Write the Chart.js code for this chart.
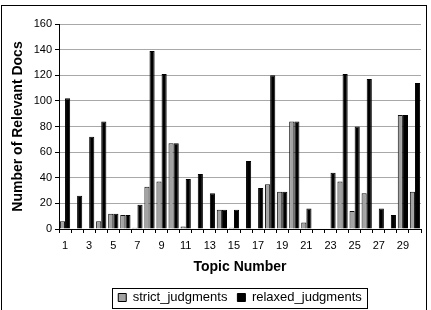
<!DOCTYPE html>
<html>
<head>
<meta charset="utf-8">
<script src="https://cdn.jsdelivr.net/npm/chart.js@4/dist/chart.umd.min.js"></script>
<style>
  html, body { margin: 0; padding: 0; background: #fff; overflow: hidden; }
  #wrap { position: relative; width: 431px; height: 310px; }
  #frame { position: absolute; left: 1px; top: 5px; width: 426px; height: 320px; border: 1px solid #000; box-sizing: border-box; pointer-events: none; }
  canvas { position: absolute; left: 0; top: 0; }
</style>
</head>
<body>
<div id="wrap">
  <canvas id="chart" width="431" height="310"></canvas>
  <div id="frame"></div>
</div>
<script>
// topic numbers 1..30
const topics = ['1','2','3','4','5','6','7','8','9','10','11','12','13','14','15',
                '16','17','18','19','20','21','22','23','24','25','26','27','28','29','30'];
const strictJudgments = [6, 0, 0, 6, 12, 11, 1, 33, 37, 67, 2, 0, 0, 15, 1,
                         0, 0, 35, 29, 84, 5, 0, 0, 37, 14, 28, 0, 0, 89, 29];
const relaxedJudgments = [102, 26, 72, 84, 12, 11, 19, 139, 121, 67, 39, 43, 28, 15, 15,
                          53, 32, 120, 29, 84, 16, 0, 44, 121, 80, 117, 16, 11, 89, 114];
const yTicks = [0, 20, 40, 60, 80, 100, 120, 140, 160];

const FONT = "'Liberation Sans', Arial, sans-serif";
Chart.defaults.font.family = FONT;
Chart.defaults.color = '#000';

// box around the legend, like the spreadsheet original
const legendBorder = {
  id: 'legendBorder',
  afterDraw(chart) {
    const boxes = chart.legend && chart.legend.legendHitBoxes;
    if (!boxes || !boxes.length) return;
    const left = Math.min(...boxes.map(b => b.left)) - 6;
    const right = Math.max(...boxes.map(b => b.left + b.width)) + 6;
    const mid = boxes[0].top + boxes[0].height / 2;
    const ctx = chart.ctx;
    ctx.save();
    ctx.strokeStyle = '#000';
    ctx.lineWidth = 1;
    ctx.strokeRect(Math.round(left) + 0.5, Math.round(mid - 10) + 0.5, Math.round(right - left), 20);
    ctx.restore();
  }
};

new Chart(document.getElementById('chart'), {
  type: 'bar',
  data: {
    labels: topics,
    datasets: [
      { label: 'strict_judgments', data: strictJudgments, backgroundColor: '#a3a3a3', borderColor: '#111', borderWidth: 1 },
      { label: 'relaxed_judgments', data: relaxedJudgments, backgroundColor: '#000', borderColor: '#000', borderWidth: 1 }
    ]
  },
  options: {
    responsive: false,
    animation: false,
    devicePixelRatio: 1,
    layout: { padding: { left: 0, right: 10, top: 24, bottom: -4 } },
    datasets: { bar: { categoryPercentage: 0.85, barPercentage: 1.0 } },
    plugins: {
      tooltip: { enabled: false },
      legend: {
        position: 'bottom',
        fullSize: false,
        labels: {
          font: { size: 13 }, color: '#000',
          boxWidth: 8, boxHeight: 8, padding: 10,
          generateLabels(chart) {
            return chart.data.datasets.map((ds, i) => ({
              text: ds.label, fillStyle: ds.backgroundColor, strokeStyle: '#000',
              lineWidth: 1, datasetIndex: i, hidden: false
            }));
          }
        }
      }
    },
    scales: {
      x: {
        grid: { offset: true, drawOnChartArea: false, drawTicks: true, tickLength: 4, tickColor: '#000' },
        border: { display: true, color: '#000' },
        ticks: {
          autoSkip: false, maxRotation: 0, minRotation: 0, padding: 6,
          font: { size: 11 }, color: '#000',
          callback(val, i) { return i % 2 === 0 ? topics[i] : ''; }
        },
        title: { display: true, text: 'Topic Number', font: { size: 14, weight: 'bold' }, color: '#000', padding: { top: 6, bottom: 5 } },
        afterFit(scale) { scale.height = 52; }
      },
      y: {
        min: 0, max: 160,
        afterBuildTicks(scale) { scale.ticks = yTicks.map(v => ({ value: v })); },
        grid: { color: '#a8a8a8', tickColor: '#000', tickLength: 4 },
        border: { display: true, color: '#000' },
        ticks: { font: { size: 11 }, color: '#000', padding: 3 },
        title: { display: true, text: 'Number of Relevant Docs', font: { size: 14, weight: 'bold' }, color: '#000', padding: { top: 10, bottom: 2 } },
        afterFit(scale) { scale.width = 59; }
      }
    }
  },
  plugins: [legendBorder]
});
</script>
</body>
</html>
